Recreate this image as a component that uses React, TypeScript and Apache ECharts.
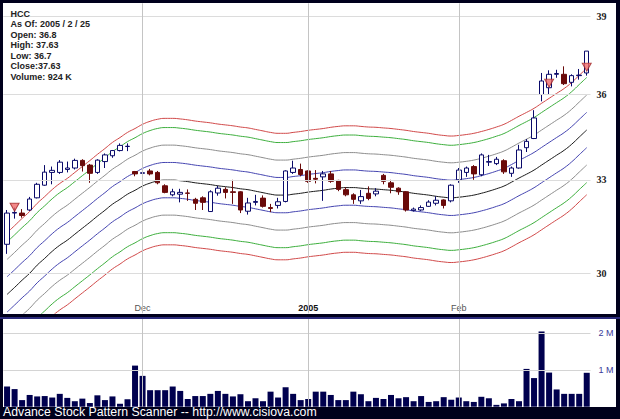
import React, { useEffect, useRef } from 'react';
import * as echarts from 'echarts';

const dates = [
  '2004-11-04','2004-11-05','2004-11-08','2004-11-09','2004-11-10','2004-11-11','2004-11-12','2004-11-15','2004-11-16','2004-11-17',
  '2004-11-18','2004-11-19','2004-11-22','2004-11-23','2004-11-24','2004-11-26','2004-11-29','2004-11-30',
  '2004-12-01','2004-12-02','2004-12-03','2004-12-06','2004-12-07','2004-12-08','2004-12-09','2004-12-10','2004-12-13','2004-12-14',
  '2004-12-15','2004-12-16','2004-12-17','2004-12-20','2004-12-21','2004-12-22','2004-12-23','2004-12-27','2004-12-28','2004-12-29',
  '2004-12-30','2004-12-31',
  '2005-01-03','2005-01-04','2005-01-05','2005-01-06','2005-01-07','2005-01-10','2005-01-11','2005-01-12','2005-01-13','2005-01-14',
  '2005-01-18','2005-01-19','2005-01-20','2005-01-21','2005-01-24','2005-01-25','2005-01-26','2005-01-27','2005-01-28','2005-01-31',
  '2005-02-01','2005-02-02','2005-02-03','2005-02-04','2005-02-07','2005-02-08','2005-02-09','2005-02-10','2005-02-11','2005-02-14',
  '2005-02-15','2005-02-16','2005-02-17','2005-02-18','2005-02-22','2005-02-23','2005-02-24','2005-02-25'
];

const opens = [
  30.9, 31.9, 31.9, 32.0, 32.4, 32.82, 33.25, 33.25, 33.35, 33.4,
  33.66, 33.5, 33.25, 33.62, 33.82, 34.0, 34.14, 33.28,
  33.22, 33.3, 33.25, 32.8, 32.5, 32.52, 32.56, 32.35, 32.4, 31.95,
  32.56, 32.68, 32.6, 32.6, 31.96, 32.25, 32.39, 32.08, 32.15, 32.28,
  33.25, 33.35,
  33.3, 33.05, 33.1, 33.2, 32.98, 32.67, 32.5, 32.3, 32.55, 32.53,
  33.15, 32.9, 32.72, 32.6, 31.98, 32.0, 32.12, 32.22, 32.33, 32.3,
  33.0, 33.25, 33.45, 33.17, 33.6, 33.55, 33.65, 33.22, 33.4, 34.1,
  34.42, 36.0, 36.25, 36.75, 36.75, 36.45, 36.7, 36.8
];
const closes = [
  31.9, 31.92, 31.82, 32.36, 32.85, 33.26, 33.32, 33.6, 33.4, 33.66,
  33.48, 33.22, 33.67, 33.85, 34.0, 34.18, 34.15, 33.2,
  33.24, 33.2, 32.9, 32.58, 32.6, 32.58, 32.55, 32.22, 32.25, 32.6,
  32.72, 32.58, 32.58, 32.0, 32.23, 32.28, 32.12, 32.05, 32.27, 33.3,
  33.4, 33.18,
  32.95, 33.02, 33.2, 32.95, 32.68, 32.5, 32.35, 32.44, 32.38, 32.62,
  32.95, 32.75, 32.6, 32.0, 32.03, 32.08, 32.26, 32.32, 32.15, 32.82,
  33.33, 33.4, 33.2, 33.85, 33.62, 33.7, 33.27, 33.4, 34.02, 34.32,
  35.15, 36.5, 36.75, 36.78, 36.4, 36.7, 36.72, 37.63
];
const lows = [
  30.6, 31.72, 31.75, 31.97, 32.38, 32.8, 32.85, 33.2, 33.25, 33.35,
  33.28, 32.9, 33.2, 33.4, 33.75, 33.97, 33.98, 33.12,
  33.15, 33.15, 32.85, 32.55, 32.45, 32.25, 32.3, 32.0, 32.0, 31.95,
  32.47, 32.38, 32.2, 31.9, 31.85, 32.15, 32.08, 31.93, 32.05, 32.25,
  33.2, 33.12,
  32.9, 32.88, 32.3, 32.9, 32.62, 32.45, 32.2, 32.2, 32.32, 32.45,
  32.85, 32.55, 32.5, 31.95, 31.95, 31.97, 32.1, 32.15, 32.05, 32.25,
  32.9, 33.1, 33.0, 33.12, 33.47, 33.5, 33.2, 33.1, 33.38, 33.95,
  34.4, 35.75, 36.0, 36.62, 36.35, 36.3, 36.55, 36.7
];
const highs = [
  32.0, 32.08, 32.03, 32.43, 32.9, 33.5, 33.45, 33.67, 33.62, 33.72,
  33.7, 33.54, 33.7, 33.9, 34.02, 34.25, 34.25, 33.3,
  33.3, 33.37, 33.3, 32.85, 32.7, 32.7, 32.68, 32.4, 32.45, 32.65,
  32.8, 32.75, 33.0, 32.62, 32.4, 32.5, 32.48, 32.2, 32.4, 33.32,
  33.65, 33.55,
  33.32, 33.33, 33.3, 33.3, 33.0, 32.75, 32.55, 32.66, 32.78, 32.72,
  33.2, 33.0, 32.75, 32.62, 32.08, 32.15, 32.32, 32.45, 32.35, 32.85,
  33.4, 33.45, 33.5, 33.9, 33.85, 33.78, 33.7, 33.45, 34.2, 34.4,
  35.43, 36.8, 36.9, 36.92, 37.05, 36.75, 36.95, 37.63
];
const volumes = [
  550000, 480000, 180000, 320000, 280000, 290000, 250000, 350000, 240000, 150000,
  220000, 100000, 310000, 180000, 280000, 80000, 200000, 1120000,
  840000, 450000, 450000, 450000, 550000, 430000, 210000, 290000, 290000, 350000,
  430000, 350000, 280000, 340000, 150000, 230000, 150000, 410000, 250000, 530000,
  350000, 180000,
  210000, 410000, 410000, 320000, 180000, 180000, 410000, 340000, 150000, 240000,
  210000, 320000, 230000, 260000, 150000, 290000, 130000, 150000, 260000, 190000,
  250000, 150000, 130000, 270000, 230000, 50000, 90000, 210000, 150000, 1030000,
  780000, 2050000, 930000, 470000, 350000, 350000, 350000, 924000
];
// smoothed centre line of the envelope (black)
const centerLine = [
  29.36, 29.57, 29.79, 30.0, 30.25, 30.46, 30.68, 30.87, 31.03, 31.22,
  31.41, 31.6, 31.8, 31.99, 32.19, 32.35, 32.52, 32.65,
  32.79, 32.89, 32.96, 32.99, 32.99, 32.97, 32.94, 32.9, 32.87, 32.84,
  32.8, 32.77, 32.74, 32.7, 32.67, 32.62, 32.57, 32.52, 32.49, 32.49,
  32.52, 32.55,
  32.59, 32.62, 32.65, 32.69, 32.72, 32.74, 32.74, 32.72, 32.7, 32.69,
  32.67, 32.65, 32.62, 32.59, 32.55, 32.52, 32.49, 32.45, 32.42, 32.4,
  32.42, 32.45, 32.49, 32.55, 32.62, 32.7, 32.79, 32.92, 33.06, 33.19,
  33.33, 33.5, 33.67, 33.84, 34.01, 34.22, 34.47, 34.72
];
// envelope offsets (natural-log distance from the centre line)
const bandOffsets = [0.063, 0.0536, 0.0357, 0.018, -0.018, -0.0357, -0.0536, -0.066];
const bandColors = ['#d04848', '#3cae3c', '#8c8c8c', '#4444b0', '#4444b0', '#8c8c8c', '#3cae3c', '#d04848'];

const signalDates = ['2004-11-05', '2005-02-17', '2005-02-25'];
const signalPrices = [32.09, 36.42, 37.02];

const priceTicks = [30, 33, 36, 39];
const volumeTicks = [1000000, 2000000];
const monthTicks = ['2004-12-01', '2005-01-03', '2005-02-01'];
const monthLabels = ['Dec', '2005', 'Feb'];

const infoLines = ['HCC', 'As Of: 2005 / 2 / 25', 'Open: 36.8', 'High: 37.63', 'Low: 36.7', 'Close:37.63', 'Volume: 924 K'];
const footer = 'Advance Stock Pattern Scanner -- http://www.cisiova.com';

export default function App() {
  const ref = useRef<HTMLDivElement>(null);
  useEffect(() => {
    document.body.style.margin = '0';
    const chart = echarts.init(ref.current!, null, { renderer: 'svg' });
    const gridLeft = 3.3;
    const gridWidth = 587.2;

    const bandSeries = bandOffsets.map((k, j) => ({
      type: 'line',
      xAxisIndex: 0,
      yAxisIndex: 0,
      data: centerLine.map((c) => +(c * Math.exp(k)).toFixed(3)),
      showSymbol: false,
      symbol: 'none',
      smooth: true,
      lineStyle: { color: bandColors[j], width: 1 },
      z: 2,
      silent: true,
    }));

    const option: any = {
      animation: false,
      backgroundColor: 'transparent',
      grid: [
        { left: gridLeft, top: 3.3, width: gridWidth, height: 310 },
        { left: gridLeft, top: 319, width: gridWidth, height: 87.7 },
      ],
      xAxis: [
        {
          type: 'category', gridIndex: 0, data: dates, boundaryGap: true,
          axisLine: { show: false }, axisTick: { show: false }, splitLine: { show: false },
          axisLabel: {
            inside: true,
            margin: 1,
            interval: (i: number) => monthTicks.indexOf(dates[i]) >= 0,
            formatter: (v: string) => {
              const idx = monthTicks.indexOf(v);
              if (idx < 0) return '';
              return idx === 1 ? '{b|' + monthLabels[idx] + '}' : '{n|' + monthLabels[idx] + '}';
            },
            rich: {
              b: { fontFamily: 'Liberation Sans, Arial', fontSize: 9, fontWeight: 'bold', color: '#111' },
              n: { fontFamily: 'Liberation Sans, Arial', fontSize: 9, color: '#555' },
            },
          },
        },
        {
          type: 'category', gridIndex: 1, data: dates, boundaryGap: true,
          axisLine: { show: false }, axisTick: { show: false }, axisLabel: { show: false }, splitLine: { show: false },
        },
      ],
      yAxis: [
        {
          type: 'log', logBase: 10, gridIndex: 0, min: 28.8, max: 39.51,
          axisLine: { show: false }, axisTick: { show: false }, axisLabel: { show: false }, splitLine: { show: false },
        },
        {
          type: 'value', gridIndex: 1, min: 0, max: 2390000,
          axisLine: { show: false }, axisTick: { show: false }, axisLabel: { show: false }, splitLine: { show: false },
        },
      ],
      graphic: [
        ...infoLines.map((t, i) => ({
          type: 'text', left: 10.5, top: 9.5 + i * 10.45, z: 10,
          style: { text: t, fill: '#222', fontFamily: 'Liberation Sans, Arial', fontSize: 9, fontWeight: 'bold' },
        })),
        {
          type: 'text', left: 3, top: 405.5, z: 10,
          style: { text: footer, fill: '#ffffff', fontFamily: 'Liberation Sans, Arial', fontSize: 12.3 },
        },
      ],
      series: [
        {
          type: 'line', xAxisIndex: 0, yAxisIndex: 0, data: [], silent: true, z: 1,
          markLine: {
            silent: true, symbol: 'none', animation: false,
            lineStyle: { color: '#dcdcdc', type: 'solid', width: 1 },
            label: {
              position: 'end', distance: 6, formatter: (p: any) => String(p.value),
              color: '#222', fontFamily: 'Liberation Serif, serif', fontWeight: 'bold', fontSize: 10,
            },
            data: [
              ...priceTicks.map((v) => ({ yAxis: v })),
              ...monthTicks.map((d) => ({ xAxis: d, label: { show: false }, lineStyle: { color: '#c4c4c4', type: 'solid', width: 1 } })),
            ],
          },
        },
        ...bandSeries,
        {
          type: 'line', xAxisIndex: 0, yAxisIndex: 0, data: centerLine, showSymbol: false, symbol: 'none', smooth: true,
          lineStyle: { color: '#1a1a1a', width: 1 }, z: 2, silent: true,
        },
        {
          type: 'candlestick', xAxisIndex: 0, yAxisIndex: 0, barWidth: 5, z: 3,
          data: dates.map((_, i) => [opens[i], closes[i], lows[i], highs[i]]),
          itemStyle: { color: '#ffffff', color0: '#6a0a0a', borderColor: '#0a0a6a', borderColor0: '#6a0a0a', borderWidth: 1 },
        },
        {
          type: 'scatter', xAxisIndex: 0, yAxisIndex: 0, z: 4, symbol: 'triangle', symbolRotate: 180, symbolSize: [9, 8],
          data: signalDates.map((d, i) => [d, signalPrices[i]]),
          itemStyle: { color: '#f06a6a', borderColor: '#a02828', borderWidth: 1 },
        },
        {
          type: 'bar', xAxisIndex: 1, yAxisIndex: 1, data: volumes, barWidth: 6, z: 3,
          itemStyle: { color: '#00004e' },
          markLine: {
            silent: true, symbol: 'none', animation: false,
            lineStyle: { color: '#d4d4d4', type: 'solid', width: 1 },
            label: {
              position: 'end', distance: 8, formatter: (p: any) => (p.value / 1000000) + ' M',
              color: '#3a3a9a', fontFamily: 'Liberation Sans, Arial', fontSize: 9,
            },
            data: [
              ...volumeTicks.map((v) => ({ yAxis: v })),
              ...monthTicks.map((d) => ({ xAxis: d, label: { show: false }, lineStyle: { color: '#c4c4c4', type: 'solid', width: 1 } })),
            ],
          },
        },
      ],
    };
    chart.setOption(option);
    return () => chart.dispose();
  }, []);

  return (
    <div style={{ position: 'absolute', left: 0, top: 0, width: 620, height: 419, background: '#00001c', overflow: 'hidden' }}>
      <div style={{ position: 'absolute', left: 3, top: 3, width: 613, height: 310.5, background: '#ffffff' }} />
      <div style={{ position: 'absolute', left: 0, top: 317, width: 620, height: 1.5, background: '#2a2a7a' }} />
      <div style={{ position: 'absolute', left: 3, top: 319, width: 613, height: 88, background: '#ffffff' }} />
      <div ref={ref} style={{ position: 'absolute', left: 0, top: 0, width: 620, height: 419 }} />
    </div>
  );
}
